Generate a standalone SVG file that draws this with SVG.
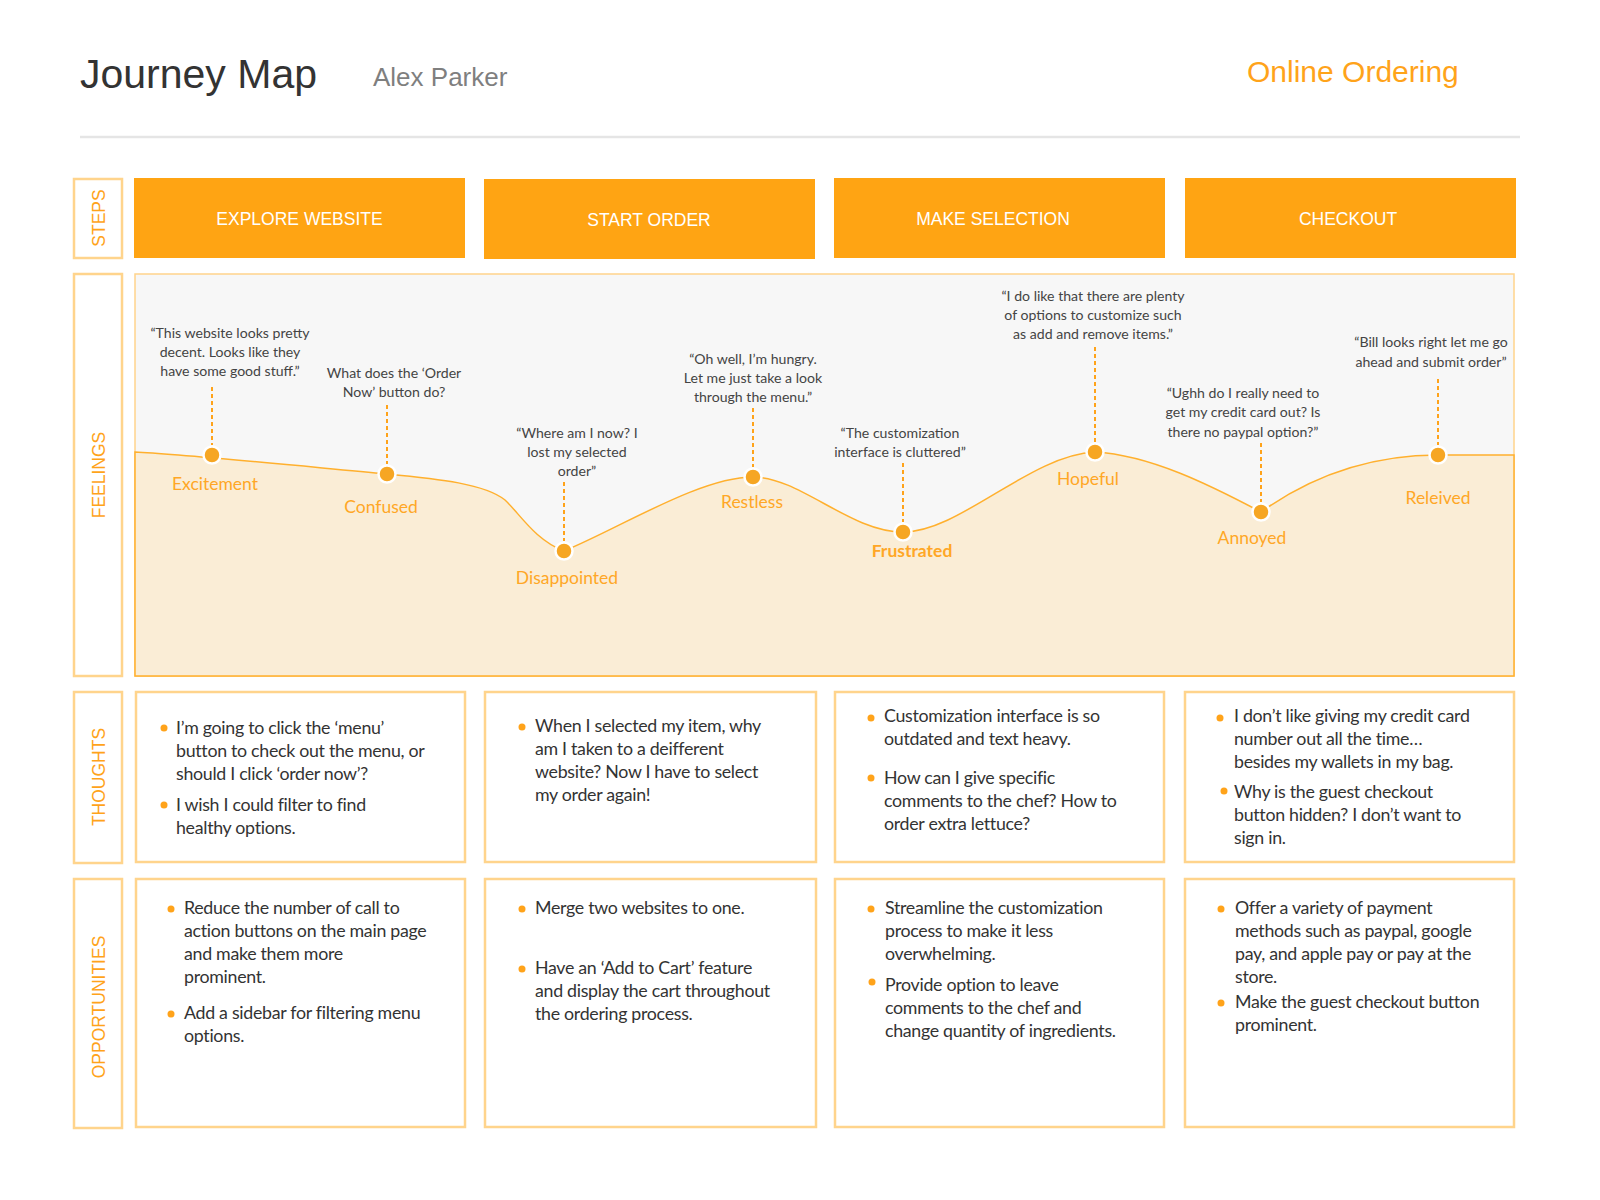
<svg xmlns="http://www.w3.org/2000/svg" width="1600" height="1200" viewBox="0 0 1600 1200">
<style>
.title{font-family:"Liberation Sans",Arial,sans-serif;font-size:41px;fill:#333}
.sub{font-family:"Liberation Sans",Arial,sans-serif;font-size:26px;fill:#7f7f7f}
.proj{font-family:"Liberation Sans",Arial,sans-serif;font-size:30px;fill:#FFA31A}
.side{fill:#fff;stroke:#FFD48C;stroke-width:2.5}
.sidelbl{font-family:"Liberation Sans",Arial,sans-serif;font-size:17.5px;fill:#FFA31A;text-anchor:middle}
.step{fill:#FFA413}
.steplbl{font-family:"Liberation Sans",Arial,sans-serif;font-size:17.5px;fill:#fff;text-anchor:middle}
.box{fill:#fff;stroke:#FFD48C;stroke-width:2.5}
.q{font-family:Lato,"Open Sans",sans-serif;font-size:14.1px;fill:#444;text-anchor:middle}
.emo{font-family:Lato,"Open Sans",sans-serif;font-size:17.5px;fill:#FFA726;text-anchor:middle}
.dot{fill:#F6A623;stroke:#fff;stroke-width:2.5}
.dash{stroke:#FFA31A;stroke-width:2;stroke-dasharray:4 3;fill:none}
.t{font-family:Lato,"Open Sans",sans-serif;font-size:17.8px;letter-spacing:-0.3px;fill:#333}
.b{fill:#FFA31A}
</style>

<g id="header">
<text class="title" x="80" y="88">Journey Map</text>
<text class="sub" x="373" y="86">Alex Parker</text>
<text class="proj" x="1247" y="82">Online Ordering</text>
<line x1="80" y1="137" x2="1520" y2="137" stroke="#E5E5E5" stroke-width="2.5"/>
</g>

<g id="row-labels">
<rect class="side" x="74" y="179" width="48" height="79"/>
<text class="sidelbl" transform="translate(105,218) rotate(-90)">STEPS</text>
<rect class="side" x="74" y="274" width="48" height="402"/>
<text class="sidelbl" transform="translate(105,475) rotate(-90)">FEELINGS</text>
<rect class="side" x="74" y="692" width="48" height="171"/>
<text class="sidelbl" transform="translate(105,777) rotate(-90)">THOUGHTS</text>
<rect class="side" x="74" y="879" width="48" height="249"/>
<text class="sidelbl" transform="translate(105,1007) rotate(-90)">OPPORTUNITIES</text>
</g>

<g id="step-explore">
<rect class="step" x="134" y="178" width="331" height="80"/>
<text class="steplbl" x="299.5" y="225">EXPLORE WEBSITE</text>
</g>
<g id="step-start">
<rect class="step" x="484" y="179" width="331" height="80"/>
<text class="steplbl" x="649" y="226">START ORDER</text>
</g>
<g id="step-select">
<rect class="step" x="834" y="178" width="331" height="80"/>
<text class="steplbl" x="993" y="225">MAKE SELECTION</text>
</g>
<g id="step-checkout">
<rect class="step" x="1185" y="178" width="331" height="80"/>
<text class="steplbl" x="1348" y="225">CHECKOUT</text>
</g>

<g id="feelings-panel">
<rect x="135" y="274" width="1379" height="402" fill="#F7F7F7" stroke="#FFD48C" stroke-width="1.5"/>
<path d="M135,452 C180,454 300,466 387,474 C440,479 485,484 505,500 C520,514 535,540 564,551 C620,528 700,477 753,477 C800,477 850,532 903,532 C960,532 1030,455 1095,452 C1150,455 1210,485 1261,512 C1320,470 1380,455 1438,455 L1514,455 L1514,676 L135,676 Z" fill="#FAEDD6" stroke="#FFB02E" stroke-width="1.5"/>
</g>

<g id="connectors">
<line class="dash" x1="212" y1="387" x2="212" y2="445"/>
<line class="dash" x1="387" y1="405" x2="387" y2="464"/>
<line class="dash" x1="564" y1="482" x2="564" y2="541"/>
<line class="dash" x1="753" y1="408" x2="753" y2="467"/>
<line class="dash" x1="903" y1="463" x2="903" y2="522"/>
<line class="dash" x1="1095" y1="347" x2="1095" y2="442"/>
<line class="dash" x1="1261" y1="443" x2="1261" y2="502"/>
<line class="dash" x1="1438" y1="379" x2="1438" y2="445"/>
</g>

<g id="feel-excitement">
<text class="q" x="230"><tspan x="230" y="338">“This website looks pretty</tspan><tspan x="230" y="357">decent. Looks like they</tspan><tspan x="230" y="376">have some good stuff.”</tspan></text>
<circle class="dot" cx="212" cy="455" r="8.5"/>
<text class="emo" x="215" y="490">Excitement</text>
</g>
<g id="feel-confused">
<text class="q" x="394"><tspan x="394" y="378">What does the ‘Order</tspan><tspan x="394" y="397">Now’ button do?</tspan></text>
<circle class="dot" cx="387" cy="474" r="8.5"/>
<text class="emo" x="381" y="513">Confused</text>
</g>
<g id="feel-disappointed">
<text class="q" x="577"><tspan x="577" y="438">“Where am I now? I</tspan><tspan x="577" y="457">lost my selected</tspan><tspan x="577" y="476">order”</tspan></text>
<circle class="dot" cx="564" cy="551" r="8.5"/>
<text class="emo" x="567" y="584">Disappointed</text>
</g>
<g id="feel-restless">
<text class="q" x="753"><tspan x="753" y="364">“Oh well, I’m hungry.</tspan><tspan x="753" y="383">Let me just take a look</tspan><tspan x="753" y="402">through the menu.”</tspan></text>
<circle class="dot" cx="753" cy="477" r="8.5"/>
<text class="emo" x="752" y="508">Restless</text>
</g>
<g id="feel-frustrated">
<text class="q" x="900"><tspan x="900" y="438">“The customization</tspan><tspan x="900" y="457">interface is cluttered”</tspan></text>
<circle class="dot" cx="903" cy="532" r="8.5"/>
<text class="emo" x="912" y="557" font-weight="bold">Frustrated</text>
</g>
<g id="feel-hopeful">
<text class="q" x="1093"><tspan x="1093" y="301">“I do like that there are plenty</tspan><tspan x="1093" y="320">of options to customize such</tspan><tspan x="1093" y="339">as add and remove items.”</tspan></text>
<circle class="dot" cx="1095" cy="452" r="8.5"/>
<text class="emo" x="1088" y="485">Hopeful</text>
</g>
<g id="feel-annoyed">
<text class="q" x="1243"><tspan x="1243" y="398">“Ughh do I really need to</tspan><tspan x="1243" y="417">get my credit card out? Is</tspan><tspan x="1243" y="437">there no paypal option?”</tspan></text>
<circle class="dot" cx="1261" cy="512" r="8.5"/>
<text class="emo" x="1252" y="544">Annoyed</text>
</g>
<g id="feel-relieved">
<text class="q" x="1431"><tspan x="1431" y="347">“Bill looks right let me go</tspan><tspan x="1431" y="367">ahead and submit order”</tspan></text>
<circle class="dot" cx="1438" cy="455" r="8.5"/>
<text class="emo" x="1438" y="504">Releived</text>
</g>

<g id="thoughts-explore">
<rect class="box" x="136" y="692" width="329" height="170"/>
<circle class="b" cx="164" cy="728" r="3.5"/>
<text class="t"><tspan x="176" y="734">I’m going to click the ‘menu’</tspan><tspan x="176" y="757">button to check out the menu, or</tspan><tspan x="176" y="780">should I click ‘order now’?</tspan></text>
<circle class="b" cx="164" cy="805" r="3.5"/>
<text class="t"><tspan x="176" y="811">I wish I could filter to find</tspan><tspan x="176" y="834">healthy options.</tspan></text>
</g>
<g id="thoughts-start">
<rect class="box" x="485" y="692" width="331" height="170"/>
<circle class="b" cx="522" cy="727" r="3.5"/>
<text class="t"><tspan x="535" y="732">When I selected my item, why</tspan><tspan x="535" y="755">am I taken to a deifferent</tspan><tspan x="535" y="778">website? Now I have to select</tspan><tspan x="535" y="801">my order again!</tspan></text>
</g>
<g id="thoughts-select">
<rect class="box" x="835" y="692" width="329" height="170"/>
<circle class="b" cx="871" cy="718" r="3.5"/>
<text class="t"><tspan x="884" y="722">Customization interface is so</tspan><tspan x="884" y="745">outdated and text heavy.</tspan></text>
<circle class="b" cx="871" cy="778" r="3.5"/>
<text class="t"><tspan x="884" y="784">How can I give specific</tspan><tspan x="884" y="807">comments to the chef? How to</tspan><tspan x="884" y="830">order extra lettuce?</tspan></text>
</g>
<g id="thoughts-checkout">
<rect class="box" x="1185" y="692" width="329" height="170"/>
<circle class="b" cx="1220" cy="718" r="3.5"/>
<text class="t"><tspan x="1234" y="722">I don’t like giving my credit card</tspan><tspan x="1234" y="745">number out all the time…</tspan><tspan x="1234" y="768">besides my wallets in my bag.</tspan></text>
<circle class="b" cx="1224" cy="791" r="3.5"/>
<text class="t"><tspan x="1234" y="798">Why is the guest checkout</tspan><tspan x="1234" y="821">button hidden? I don’t want to</tspan><tspan x="1234" y="844">sign in.</tspan></text>
</g>

<g id="opp-explore">
<rect class="box" x="136" y="879" width="329" height="248"/>
<circle class="b" cx="171" cy="909" r="3.5"/>
<text class="t"><tspan x="184" y="914">Reduce the number of call to</tspan><tspan x="184" y="937">action buttons on the main page</tspan><tspan x="184" y="960">and make them more</tspan><tspan x="184" y="983">prominent.</tspan></text>
<circle class="b" cx="171" cy="1014" r="3.5"/>
<text class="t"><tspan x="184" y="1019">Add a sidebar for filtering menu</tspan><tspan x="184" y="1042">options.</tspan></text>
</g>
<g id="opp-start">
<rect class="box" x="485" y="879" width="331" height="248"/>
<circle class="b" cx="522" cy="909" r="3.5"/>
<text class="t"><tspan x="535" y="914">Merge two websites to one.</tspan></text>
<circle class="b" cx="522" cy="969" r="3.5"/>
<text class="t"><tspan x="535" y="974">Have an ‘Add to Cart’ feature</tspan><tspan x="535" y="997">and display the cart throughout</tspan><tspan x="535" y="1020">the ordering process.</tspan></text>
</g>
<g id="opp-select">
<rect class="box" x="835" y="879" width="329" height="248"/>
<circle class="b" cx="871" cy="909" r="3.5"/>
<text class="t"><tspan x="885" y="914">Streamline the customization</tspan><tspan x="885" y="937">process to make it less</tspan><tspan x="885" y="960">overwhelming.</tspan></text>
<circle class="b" cx="872" cy="982" r="3.5"/>
<text class="t"><tspan x="885" y="991">Provide option to leave</tspan><tspan x="885" y="1014">comments to the chef and</tspan><tspan x="885" y="1037">change quantity of ingredients.</tspan></text>
</g>
<g id="opp-checkout">
<rect class="box" x="1185" y="879" width="329" height="248"/>
<circle class="b" cx="1221" cy="909" r="3.5"/>
<text class="t"><tspan x="1235" y="914">Offer a variety of payment</tspan><tspan x="1235" y="937">methods such as paypal, google</tspan><tspan x="1235" y="960">pay, and apple pay or pay at the</tspan><tspan x="1235" y="983">store.</tspan></text>
<circle class="b" cx="1221" cy="1003" r="3.5"/>
<text class="t"><tspan x="1235" y="1008">Make the guest checkout button</tspan><tspan x="1235" y="1031">prominent.</tspan></text>
</g>
</svg>
